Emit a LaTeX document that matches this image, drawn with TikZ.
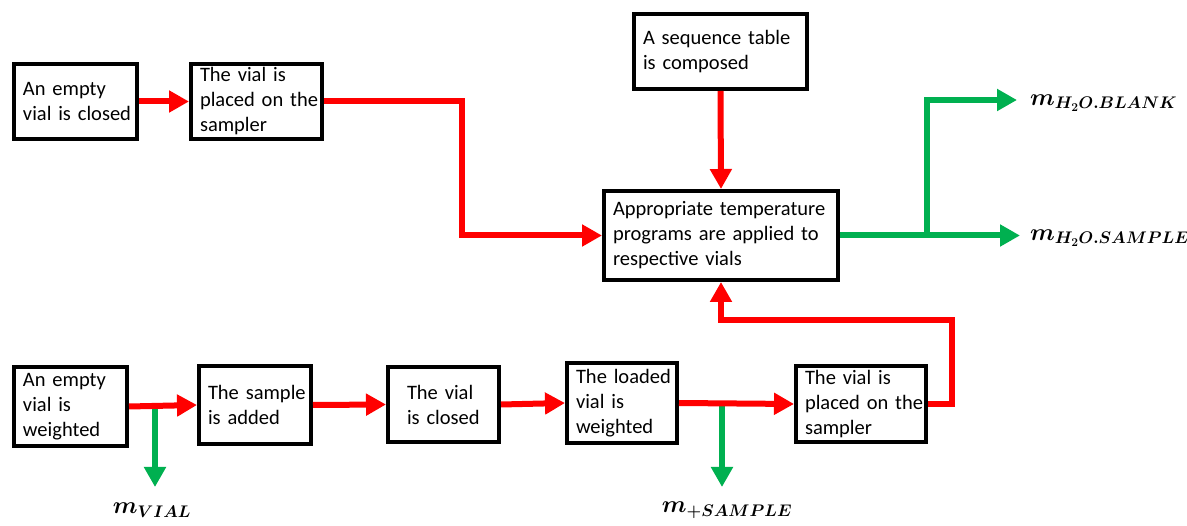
\RequirePackage{fix-cm}
\documentclass[tikz,border=0pt]{standalone}
\usepackage{fontspec}
\setmainfont{Carlito}
\usetikzlibrary{arrows.meta}
\definecolor{flowred}{RGB}{255,0,0}
\definecolor{flowgreen}{RGB}{0,176,80}
\newcommand{\bxline}[1]{\mbox{#1}}
\begin{document}
\begin{tikzpicture}[x=1pt,y=-1pt,
  box/.style={draw=black,line width=4pt,fill=white,anchor=north west,
    inner xsep=9pt,inner ysep=0pt,align=left,
    font=\fontsize{20.5}{25}\selectfont},
  redarrow/.style={draw=flowred,line width=6pt,-{Triangle[length=20pt,width=21pt]}},
  greenarrow/.style={draw=flowgreen,line width=6pt,-{Triangle[length=20pt,width=21pt]}},
  lab/.style={inner sep=0pt,font=\boldmath\fontsize{24}{26}\selectfont}]
\useasboundingbox (0,0) rectangle (1187,526);
\clip (0,0) rectangle (1187,526);
\fill[white] (0,0) rectangle (1187,526);

% top row
\node[box,minimum width=123pt,minimum height=75pt,text width=105pt] (b1) at (12,62) {\bxline{An empty}\\\bxline{vial is closed}};
\node[box,minimum width=131pt,minimum height=75pt,text width=113pt] (b2) at (189,62) {\bxline{The vial is}\\\bxline{placed on the}\\\bxline{sampler}};
\node[box,minimum width=173pt,minimum height=75pt,text width=155pt] (seq) at (632,12) {\bxline{A sequence table}\\\bxline{is composed}};
\node[box,minimum width=234pt,minimum height=89pt,text width=216pt] (main) at (602,189) {\bxline{Appropriate temperature}\\\bxline{programs are applied to}\\\bxline{respective vials}};

% bottom row
\node[box,minimum width=113pt,minimum height=79pt,text width=95pt] (w1) at (12,365) {\bxline{An empty}\\\bxline{vial is}\\\bxline{weighted}};
\node[box,minimum width=112pt,minimum height=78pt,text width=94pt] (sw) at (197,364) {\bxline{The sample}\\\bxline{is added}};
\node[box,minimum width=111pt,minimum height=75pt,text width=93pt] (cl) at (386,365) {\hspace*{10pt}\bxline{The vial}\\\hspace*{10pt}\bxline{is closed}};
\node[box,minimum width=110pt,minimum height=80pt,text width=92pt] (ld) at (565,361) {\bxline{The loaded}\\\bxline{vial is}\\\bxline{weighted}};
\node[box,minimum width=130pt,minimum height=76pt,text width=112pt] (p2) at (794,364) {\bxline{The vial is}\\\bxline{placed on the}\\\bxline{sampler}};

% helper coordinates
\coordinate (r1) at (462,100);
\coordinate (gS) at (1020,234);
\coordinate (gB) at (1017,100);
\coordinate (br) at (927,234);
\coordinate (g1) at (155,487);
\coordinate (g2) at (722,487);
\coordinate (r2) at (952,320);

% green outputs
\draw[greenarrow] (main.east) -- (main.east -| gS);
\draw[greenarrow] (main.east -| br) |- (gB);
\draw[greenarrow] (w1.east -| g1) -- (g1);
\draw[greenarrow] (ld.east -| g2) -- (g2);

% red flow
\draw[redarrow] (b1.east) -- (b2.west);
\draw[redarrow] (b2.east) -- (b2.east -| r1) |- (main.west);
\draw[redarrow] (seq.south) -- (main.north);
\draw[redarrow] (w1.east) -- (sw.west);
\draw[redarrow] (sw.east) -- (cl.west);
\draw[redarrow] (cl.east) -- (ld.west);
\draw[redarrow] (ld.east) -- (p2.west);
\draw[redarrow] (p2.east) -| (r2) -| (main.south);

% labels
\node[lab] (mv) at (152,510) {$m_{VIAL}$};
\node[lab] (ms) at (727,510) {$m_{+SAMPLE}$};
\node[lab,anchor=west] (mb) at (1030,103) {$m_{H_2O.BLANK}$};
\node[lab,anchor=west] (mh) at (1030,238) {$m_{H_2O.SAMPLE}$};
\end{tikzpicture}
\end{document}
